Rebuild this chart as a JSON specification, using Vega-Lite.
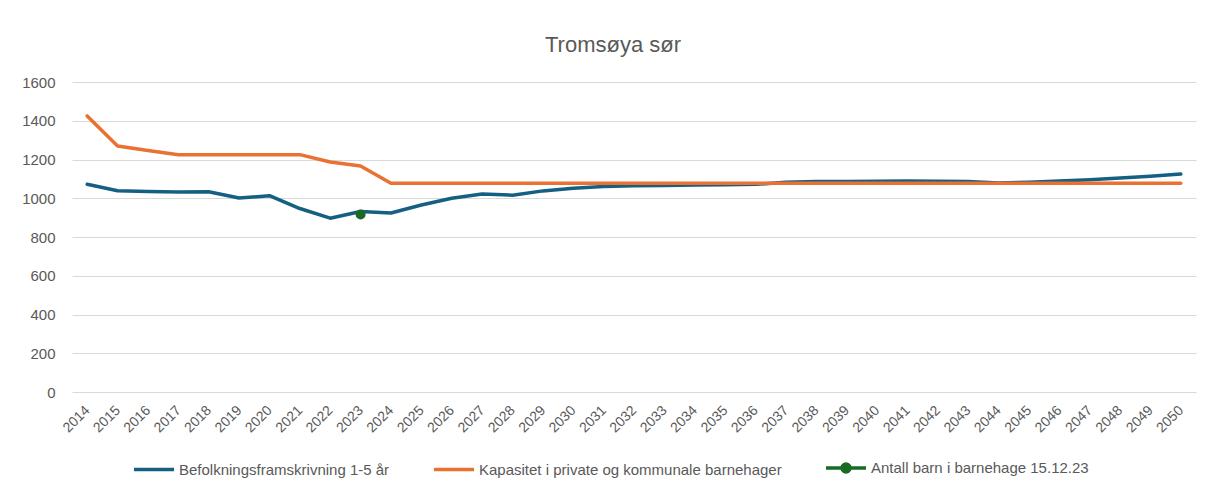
{
  "$schema": "https://vega.github.io/schema/vega-lite/v6.json",
  "autosize": {"type": "none"},
  "padding": {"left": 72, "top": 82, "right": 10, "bottom": 100},
  "width": 1124,
  "height": 310,
  "background": "white",
  "config": {
    "font": "Liberation Sans",
    "view": {"stroke": null}
  },
  "title": {
    "text": "Tromsøya sør",
    "fontSize": 22,
    "fontWeight": "normal",
    "color": "#595959",
    "anchor": "middle",
    "dx": -21,
    "offset": 18
  },
  "datasets": {
    "lines": [
      {"year": "2014", "series": "Befolkningsframskrivning 1-5 år", "value": 1072},
      {"year": "2015", "series": "Befolkningsframskrivning 1-5 år", "value": 1039},
      {"year": "2016", "series": "Befolkningsframskrivning 1-5 år", "value": 1035},
      {"year": "2017", "series": "Befolkningsframskrivning 1-5 år", "value": 1032},
      {"year": "2018", "series": "Befolkningsframskrivning 1-5 år", "value": 1034},
      {"year": "2019", "series": "Befolkningsframskrivning 1-5 år", "value": 1001},
      {"year": "2020", "series": "Befolkningsframskrivning 1-5 år", "value": 1013},
      {"year": "2021", "series": "Befolkningsframskrivning 1-5 år", "value": 947},
      {"year": "2022", "series": "Befolkningsframskrivning 1-5 år", "value": 897},
      {"year": "2023", "series": "Befolkningsframskrivning 1-5 år", "value": 932},
      {"year": "2024", "series": "Befolkningsframskrivning 1-5 år", "value": 924},
      {"year": "2025", "series": "Befolkningsframskrivning 1-5 år", "value": 965},
      {"year": "2026", "series": "Befolkningsframskrivning 1-5 år", "value": 1000},
      {"year": "2027", "series": "Befolkningsframskrivning 1-5 år", "value": 1022},
      {"year": "2028", "series": "Befolkningsframskrivning 1-5 år", "value": 1016},
      {"year": "2029", "series": "Befolkningsframskrivning 1-5 år", "value": 1038},
      {"year": "2030", "series": "Befolkningsframskrivning 1-5 år", "value": 1052},
      {"year": "2031", "series": "Befolkningsframskrivning 1-5 år", "value": 1061},
      {"year": "2032", "series": "Befolkningsframskrivning 1-5 år", "value": 1064},
      {"year": "2033", "series": "Befolkningsframskrivning 1-5 år", "value": 1066},
      {"year": "2034", "series": "Befolkningsframskrivning 1-5 år", "value": 1068},
      {"year": "2035", "series": "Befolkningsframskrivning 1-5 år", "value": 1070},
      {"year": "2036", "series": "Befolkningsframskrivning 1-5 år", "value": 1072},
      {"year": "2037", "series": "Befolkningsframskrivning 1-5 år", "value": 1082},
      {"year": "2038", "series": "Befolkningsframskrivning 1-5 år", "value": 1086},
      {"year": "2039", "series": "Befolkningsframskrivning 1-5 år", "value": 1087},
      {"year": "2040", "series": "Befolkningsframskrivning 1-5 år", "value": 1088},
      {"year": "2041", "series": "Befolkningsframskrivning 1-5 år", "value": 1089},
      {"year": "2042", "series": "Befolkningsframskrivning 1-5 år", "value": 1088},
      {"year": "2043", "series": "Befolkningsframskrivning 1-5 år", "value": 1087},
      {"year": "2044", "series": "Befolkningsframskrivning 1-5 år", "value": 1079},
      {"year": "2045", "series": "Befolkningsframskrivning 1-5 år", "value": 1083},
      {"year": "2046", "series": "Befolkningsframskrivning 1-5 år", "value": 1089},
      {"year": "2047", "series": "Befolkningsframskrivning 1-5 år", "value": 1096},
      {"year": "2048", "series": "Befolkningsframskrivning 1-5 år", "value": 1105},
      {"year": "2049", "series": "Befolkningsframskrivning 1-5 år", "value": 1114},
      {"year": "2050", "series": "Befolkningsframskrivning 1-5 år", "value": 1125},
      {"year": "2014", "series": "Kapasitet i private og kommunale barnehager", "value": 1425},
      {"year": "2015", "series": "Kapasitet i private og kommunale barnehager", "value": 1270},
      {"year": "2016", "series": "Kapasitet i private og kommunale barnehager", "value": 1247},
      {"year": "2017", "series": "Kapasitet i private og kommunale barnehager", "value": 1225},
      {"year": "2018", "series": "Kapasitet i private og kommunale barnehager", "value": 1225},
      {"year": "2019", "series": "Kapasitet i private og kommunale barnehager", "value": 1225},
      {"year": "2020", "series": "Kapasitet i private og kommunale barnehager", "value": 1225},
      {"year": "2021", "series": "Kapasitet i private og kommunale barnehager", "value": 1225},
      {"year": "2022", "series": "Kapasitet i private og kommunale barnehager", "value": 1187},
      {"year": "2023", "series": "Kapasitet i private og kommunale barnehager", "value": 1166},
      {"year": "2024", "series": "Kapasitet i private og kommunale barnehager", "value": 1077},
      {"year": "2025", "series": "Kapasitet i private og kommunale barnehager", "value": 1077},
      {"year": "2026", "series": "Kapasitet i private og kommunale barnehager", "value": 1077},
      {"year": "2027", "series": "Kapasitet i private og kommunale barnehager", "value": 1077},
      {"year": "2028", "series": "Kapasitet i private og kommunale barnehager", "value": 1077},
      {"year": "2029", "series": "Kapasitet i private og kommunale barnehager", "value": 1077},
      {"year": "2030", "series": "Kapasitet i private og kommunale barnehager", "value": 1077},
      {"year": "2031", "series": "Kapasitet i private og kommunale barnehager", "value": 1077},
      {"year": "2032", "series": "Kapasitet i private og kommunale barnehager", "value": 1077},
      {"year": "2033", "series": "Kapasitet i private og kommunale barnehager", "value": 1077},
      {"year": "2034", "series": "Kapasitet i private og kommunale barnehager", "value": 1077},
      {"year": "2035", "series": "Kapasitet i private og kommunale barnehager", "value": 1077},
      {"year": "2036", "series": "Kapasitet i private og kommunale barnehager", "value": 1077},
      {"year": "2037", "series": "Kapasitet i private og kommunale barnehager", "value": 1077},
      {"year": "2038", "series": "Kapasitet i private og kommunale barnehager", "value": 1077},
      {"year": "2039", "series": "Kapasitet i private og kommunale barnehager", "value": 1077},
      {"year": "2040", "series": "Kapasitet i private og kommunale barnehager", "value": 1077},
      {"year": "2041", "series": "Kapasitet i private og kommunale barnehager", "value": 1077},
      {"year": "2042", "series": "Kapasitet i private og kommunale barnehager", "value": 1077},
      {"year": "2043", "series": "Kapasitet i private og kommunale barnehager", "value": 1077},
      {"year": "2044", "series": "Kapasitet i private og kommunale barnehager", "value": 1077},
      {"year": "2045", "series": "Kapasitet i private og kommunale barnehager", "value": 1077},
      {"year": "2046", "series": "Kapasitet i private og kommunale barnehager", "value": 1077},
      {"year": "2047", "series": "Kapasitet i private og kommunale barnehager", "value": 1077},
      {"year": "2048", "series": "Kapasitet i private og kommunale barnehager", "value": 1077},
      {"year": "2049", "series": "Kapasitet i private og kommunale barnehager", "value": 1077},
      {"year": "2050", "series": "Kapasitet i private og kommunale barnehager", "value": 1077},
      {"year": "2023", "series": "Antall barn i barnehage 15.12.23", "value": 916}
    ]
  },
  "data": {"name": "lines"},
  "encoding": {
    "x": {
      "field": "year",
      "type": "ordinal",
      "title": null,
      "axis": {
        "labelAngle": -45,
        "labelAlign": "right",
        "labelBaseline": "middle",
        "labelFontSize": 14,
        "labelColor": "#595959",
        "labelPadding": 16,
        "domain": false,
        "ticks": false
      }
    },
    "y": {
      "field": "value",
      "type": "quantitative",
      "title": null,
      "scale": {"domain": [0, 1600], "nice": false},
      "axis": {
        "values": [0, 200, 400, 600, 800, 1000, 1200, 1400, 1600],
        "format": "d",
        "labelFontSize": 15,
        "labelColor": "#595959",
        "labelPadding": 17,
        "domain": false,
        "ticks": false,
        "gridColor": "#d9d9d9",
        "gridWidth": 1
      }
    },
    "color": {
      "field": "series",
      "type": "nominal",
      "scale": {
        "domain": ["Befolkningsframskrivning 1-5 år", "Kapasitet i private og kommunale barnehager", "Antall barn i barnehage 15.12.23"],
        "range": ["#156082", "#E97132", "#196B24"]
      },
      "legend": {
        "title": null,
        "orient": "none",
        "direction": "horizontal",
        "legendX": 60,
        "legendY": 364,
        "symbolType": "stroke",
        "symbolSize": 1600,
        "symbolStrokeWidth": 3.5,
        "labelFontSize": 15,
        "labelLimit": 0,
        "labelColor": "#595959",
        "labelOffset": 3,
        "columnPadding": 37,
        "encode": {
          "symbols": {
            "update": {
              "shape": {"signal": "datum.label == 'Antall barn i barnehage 15.12.23' ? 'M-1,0H1M-0.2,0A0.2,0.2,0,1,0,0.2,0A0.2,0.2,0,1,0,-0.2,0Z' : 'stroke'"},
              "fill": {"signal": "datum.label == 'Antall barn i barnehage 15.12.23' ? '#196B24' : 'transparent'"}
            }
          }
        }
      }
    }
  },
  "layer": [
    {
      "mark": {"type": "line", "strokeWidth": 3.5, "strokeCap": "round", "strokeJoin": "round"}
    },
    {
      "transform": [{"filter": "datum.series == 'Antall barn i barnehage 15.12.23'"}],
      "mark": {"type": "point", "filled": true, "size": 100, "opacity": 1}
    }
  ]
}
